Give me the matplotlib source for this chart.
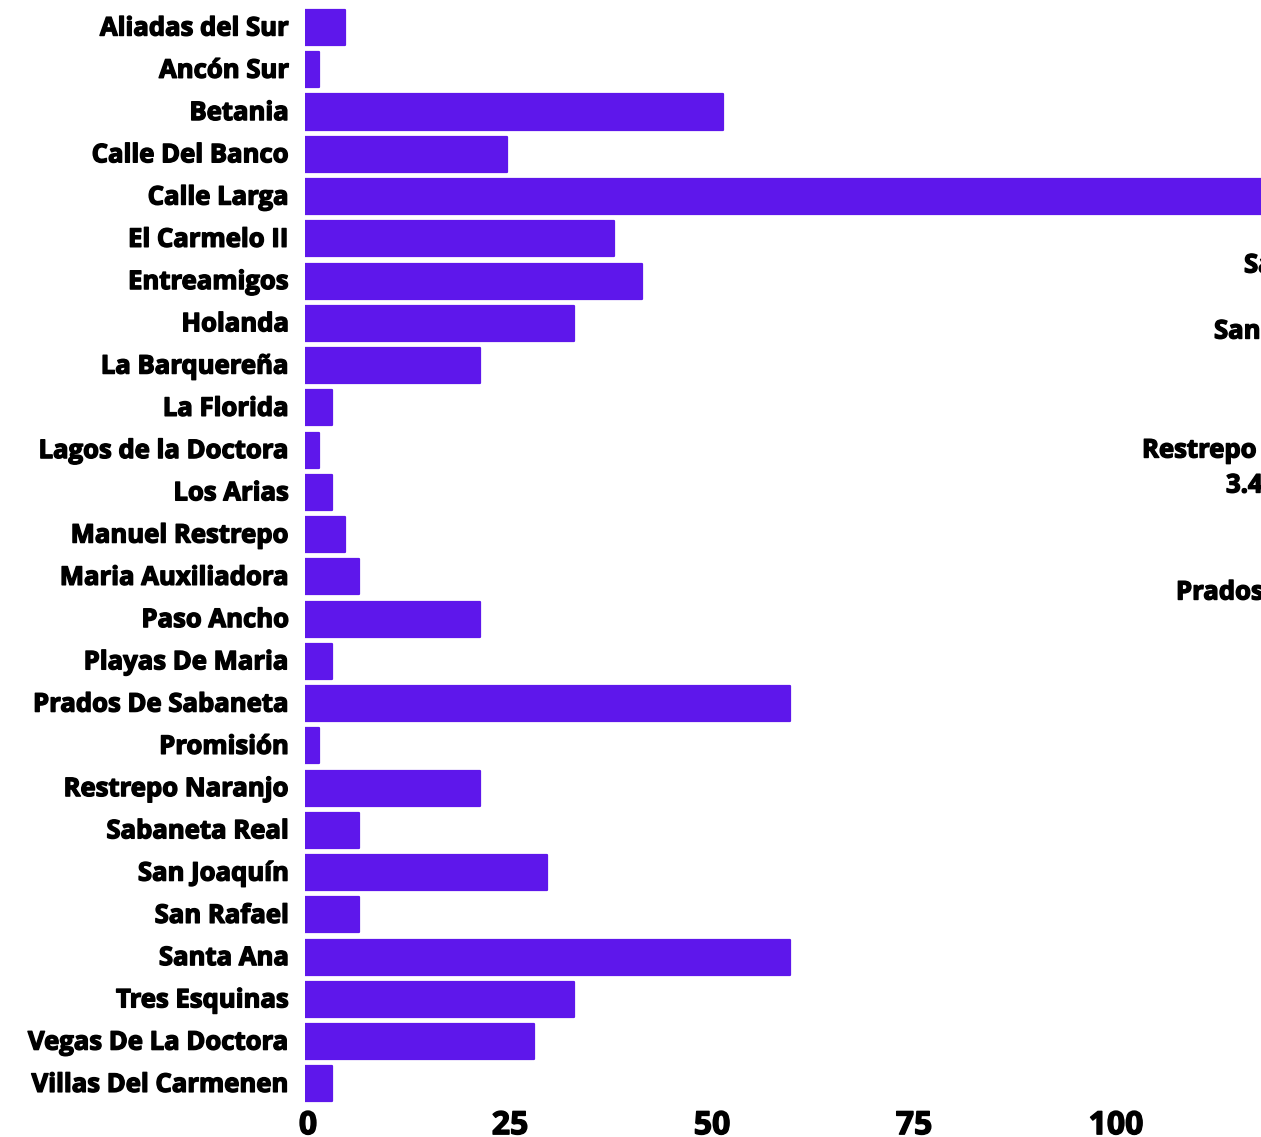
import matplotlib
matplotlib.use("Agg")
import matplotlib.pyplot as plt
import matplotlib.transforms as mtransforms
import matplotlib.patheffects as pe

plt.rcParams['font.family'] = ['Open Sans', 'DejaVu Sans']

# Barrios and their values (Calle Larga runs off the right edge)
barrios = [
    "Aliadas del Sur", "Ancón Sur", "Betania", "Calle Del Banco", "Calle Larga",
    "El Carmelo II", "Entreamigos", "Holanda", "La Barquereña", "La Florida",
    "Lagos de la Doctora", "Los Arias", "Manuel Restrepo", "Maria Auxiliadora",
    "Paso Ancho", "Playas De Maria", "Prados De Sabaneta", "Promisión",
    "Restrepo Naranjo", "Sabaneta Real", "San Joaquín", "San Rafael",
    "Santa Ana", "Tres Esquinas", "Vegas De La Doctora", "Villas Del Carmenen",
]
valores = [
    5.0, 1.7, 51.7, 25.0, 125.0,
    38.3, 41.7, 33.3, 21.7, 3.3,
    1.7, 3.3, 5.0, 6.7,
    21.7, 3.3, 60.0, 1.7,
    21.7, 6.7, 30.0, 6.7,
    60.0, 33.3, 28.3, 3.3,
]
ticks = [0, 25, 50, 75, 100]

# labels of the neighbouring chart that peek in at the right edge
side_labels = ["Santa Ana", "San Joaquín", "5.1%", "Restrepo Naranjo", "3.4%", "Prados De Sabaneta"]
side_pos = [(1244, 265), (1214, 331), (1260.5, 368), (1142, 450), (1226, 485), (1176, 592)]

W, H = 1261, 1137
fig = plt.figure(figsize=(W / 100, H / 100), dpi=100)
ax = fig.add_axes([305 / W, 1 - 1105 / H, 1 - 305 / W, (1105 - 6.4) / H])

color = "#5E17EB"
y = range(len(barrios))
ax.barh(y, valores, height=0.83, color=color, edgecolor=color,
        linewidth=1.6, joinstyle="round")

# extra-bold look
heavy = [pe.withStroke(linewidth=1.0, foreground="black")]

ax.set_ylim(len(barrios) - 0.5, -0.5)
ax.set_xlim(0, (W - 305) / 8.08)
ax.set_yticks(list(y))
ax.set_yticklabels(barrios, fontsize=18.5, fontweight="bold", path_effects=heavy)
ax.set_xticks(ticks)
ax.set_xticklabels([str(t) for t in ticks], fontsize=23, fontweight="bold", path_effects=heavy)
ax.tick_params(axis="y", length=0, pad=11.5)
ax.tick_params(axis="x", length=0, pad=3)
for s in ax.spines.values():
    s.set_visible(False)

# nudge the labels a little, as in the original
shift_x = mtransforms.ScaledTranslation(3 / 100, 0, fig.dpi_scale_trans)
for lab in ax.get_xticklabels():
    lab.set_transform(lab.get_transform() + shift_x)
shift_y = mtransforms.ScaledTranslation(0, 2.5 / 100, fig.dpi_scale_trans)
for lab in ax.get_yticklabels():
    lab.set_transform(lab.get_transform() + shift_y)

for txt, (px, py) in zip(side_labels, side_pos):
    fig.text(px / W, 1 - py / H, txt, fontsize=18.5, fontweight="bold",
             ha="left", va="center", path_effects=heavy)

fig.savefig("out.png", dpi=100)
